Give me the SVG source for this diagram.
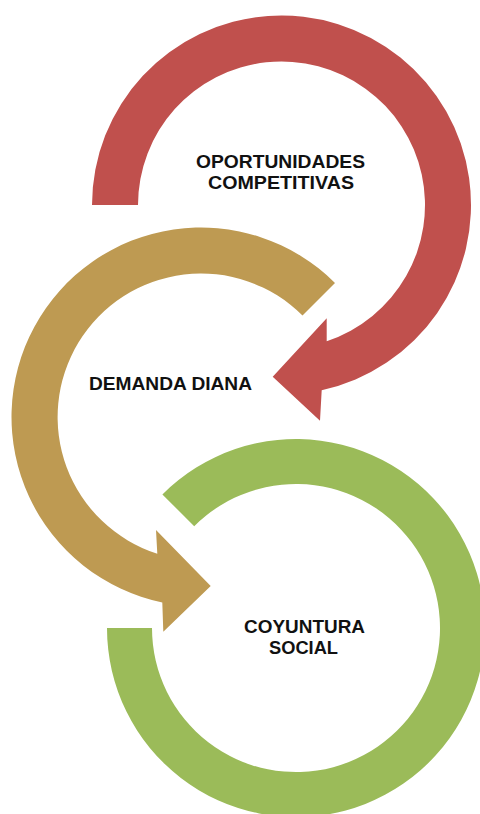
<svg xmlns="http://www.w3.org/2000/svg" width="480" height="814" viewBox="0 0 480 814">
<style>
.lbl{font-family:"Liberation Sans",Arial,sans-serif;font-weight:bold;font-size:17.5px;fill:#111111;text-anchor:middle}
</style>
<rect width="480" height="814" fill="#ffffff"/>
<g id="connectors">
<path id="arrow-red" fill="#C0504D" d="M 92 205 A 189.5 189.5 0 1 1 321.7 390.2 L 320 420.7 L 272.7 376.7 L 326.7 318.3 L 326.7 341.2 A 143.5 143.5 0 1 0 138 205 Z"/>
<path id="arrow-tan" fill="#BE9A52" d="M 335 283 A 189.5 189.5 0 1 0 162.3 602.5 L 163.3 631.7 L 210.7 586 L 156 530 L 157.3 553.7 A 143.5 143.5 0 1 1 302.5 315.5 Z"/>
<path id="ring-green" fill="#9BBB59" d="M 162.4 494.4 A 189 189 0 1 1 107 628 L 152 628 A 144 144 0 1 0 194.2 526.2 Z"/>
</g>
<g id="node-oportunidades">
<text class="lbl" x="280.5" y="168" textLength="169" lengthAdjust="spacingAndGlyphs">OPORTUNIDADES</text>
<text class="lbl" x="281" y="189" textLength="146" lengthAdjust="spacingAndGlyphs">COMPETITIVAS</text>
</g>
<g id="node-demanda">
<text class="lbl" x="170.5" y="389.5" textLength="163" lengthAdjust="spacingAndGlyphs">DEMANDA DIANA</text>
</g>
<g id="node-coyuntura">
<text class="lbl" x="304.5" y="632.5" textLength="121" lengthAdjust="spacingAndGlyphs">COYUNTURA</text>
<text class="lbl" x="303.5" y="653.5" textLength="69" lengthAdjust="spacingAndGlyphs">SOCIAL</text>
</g>
</svg>
